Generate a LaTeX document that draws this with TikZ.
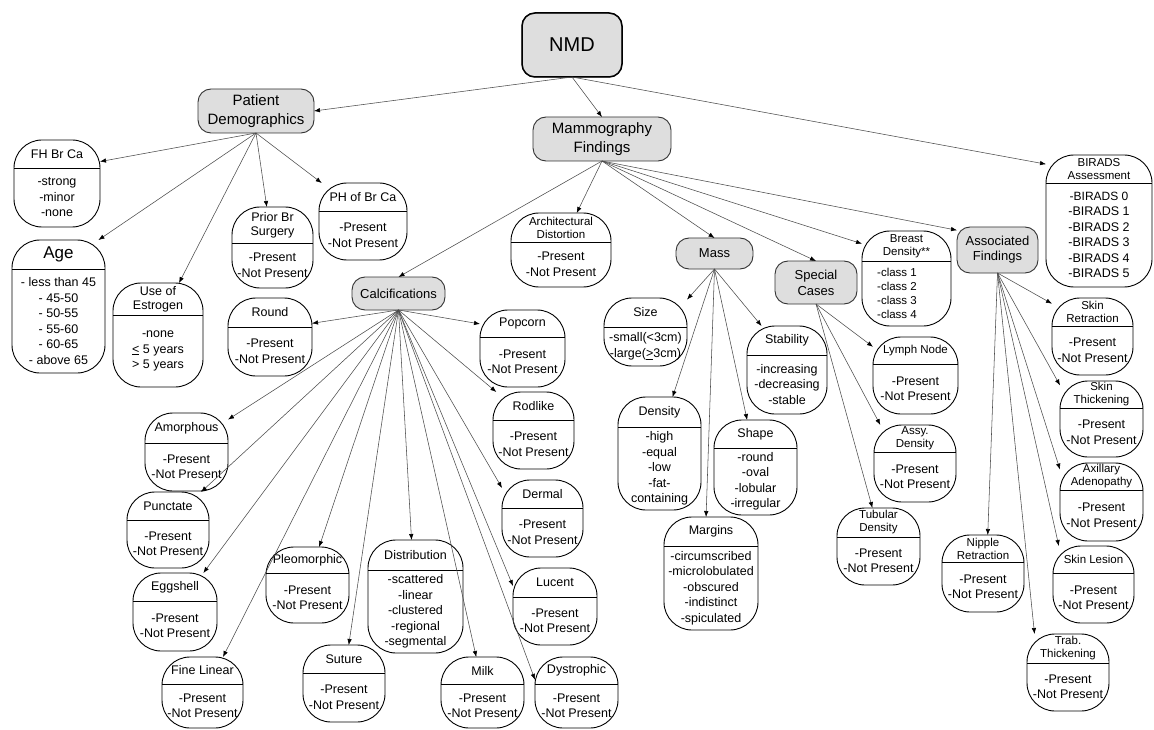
\documentclass[tikz,border=0pt]{standalone}
\usepackage{fontspec}
\setmainfont{Liberation Sans}
\usetikzlibrary{arrows.meta}
\tikzset{
  box/.style={inner sep=0pt, outer sep=0pt},
  boxline/.style={draw=black, line width=0.9pt, rounded corners=28pt},
  gbox/.style={inner sep=0pt, outer sep=0pt, align=center},
  gline/.style={draw=black!80, line width=0.9pt, rounded corners=13pt, fill=black!13},
  divl/.style={draw=black, line width=0.9pt},
  h/.style={font=\fontsize{12.5}{14}\selectfont, align=center, inner sep=0pt},
  hs/.style={font=\fontsize{11.5}{13}\selectfont, align=center, inner sep=0pt},
  hA/.style={font=\fontsize{17}{20}\selectfont, align=center, inner sep=0pt},
  bd/.style={font=\fontsize{12.5}{15.5}\selectfont, align=center, inner sep=0pt},
  arr/.style={draw=black!70, line width=0.55pt, -{Latex[length=6pt,width=4.5pt,color=black]}}
}
\newcommand\catbox[9]{%
  \pgfmathsetmacro\cbw{#4-#2}%
  \pgfmathsetmacro\cbh{#5-#3}%
  \draw[boxline] (#2,#3) rectangle (#4,#5);%
  \node[box, minimum width=\cbw pt, minimum height=\cbh pt] (#1) at ({(#2+#4)/2},{(#3+#5)/2}) {};%
  \draw[divl] (#2,#6) -- (#4,#6);%
  \node[#7] (#1-h) at ({(#2+#4)/2},{(#3+#6)/2}) {#8};%
  \node[bd] (#1-b) at ({(#2+#4)/2},{(#6+#5)/2}) {#9};%
}
\newcommand\gbx[7]{%
  \pgfmathsetmacro\cbw{#4-#2}%
  \pgfmathsetmacro\cbh{#5-#3}%
  \draw[gline] (#2,#3) rectangle (#4,#5);%
  \node[gbox, minimum width=\cbw pt, minimum height=\cbh pt, font={#6}] (#1) at ({(#2+#4)/2},{(#3+#5)/2}) {#7};%
}
\newcommand\PresNP{-Present\\-Not Present}
\begin{document}
\begin{tikzpicture}[x=1pt,y=-1pt]
\useasboundingbox (0,0) rectangle (1154,730);
\fill[white] (0,0) rectangle (1154,730);

% grey category boxes
\gbx{nmd}{522}{13}{622}{77}{\fontsize{20}{24}\selectfont}{NMD}
\draw[line width=1.5pt, rounded corners=13pt] (522,13) rectangle (622,77);
\gbx{pd}{198}{89}{314}{133}{\fontsize{15}{19}\selectfont}{Patient\\Demographics}
\gbx{mf}{533}{117}{671}{161}{\fontsize{15}{19}\selectfont}{Mammography\\Findings}
\gbx{calc}{352}{277}{445}{310}{\fontsize{13}{15}\selectfont}{Calcifications}
\gbx{mass}{676}{238}{753}{269}{\fontsize{13}{15}\selectfont}{Mass}
\gbx{spec}{775}{261}{857}{304}{\fontsize{13}{16}\selectfont}{Special\\Cases}
\gbx{af}{957}{227}{1038}{273}{\fontsize{13}{15}\selectfont}{Associated\\Findings}

% patient demographics
\catbox{fh}{14}{140}{100}{227}{168}{h}{FH Br Ca}{-strong\\-minor\\-none}
\catbox{age}{12}{240}{105}{373}{269}{hA}{Age}{\fontsize{12.5}{15.4}\selectfont - less than 45\\- 45-50\\- 50-55\\- 55-60\\- 60-65\\- above 65}
\catbox{est}{113}{283}{203}{387}{315}{h}{Use of\\Estrogen}{\fontsize{12.5}{13}\selectfont -none\\\underline{<} 5 years\\> 5 years}
\catbox{prior}{232}{207}{313}{288}{243}{h}{Prior Br\\Surgery}{\PresNP}
\catbox{ph}{319}{183}{407}{260}{211}{h}{PH of Br Ca}{\PresNP}

% calcifications
\catbox{round}{228}{298}{312}{376}{327}{h}{Round}{\PresNP}
\catbox{pop}{480}{310}{565}{387}{337}{h}{Popcorn}{\PresNP}
\catbox{rod}{493}{392}{574}{469}{420}{h}{Rodlike}{\PresNP}
\catbox{derm}{502}{480}{583}{557}{508}{h}{Dermal}{\PresNP}
\catbox{amor}{145}{413}{228}{491}{443}{h}{Amorphous}{\PresNP}
\catbox{punct}{127}{492}{209}{568}{520}{h}{Punctate}{\PresNP}
\catbox{egg}{133}{573}{217}{651}{601}{h}{Eggshell}{\PresNP}
\catbox{fine}{162}{657}{243}{728}{684}{h}{Fine Linear}{\PresNP}
\catbox{pleo}{266}{547}{349}{623}{573}{h}{Pleomorphic}{\PresNP}
\catbox{sut}{303}{645}{385}{722}{673}{h}{Suture}{\PresNP}
\catbox{dist}{368}{540}{463}{653}{570}{h}{Distribution}{-scattered\\-linear\\-clustered\\-regional\\-segmental}
\catbox{milk}{441}{657}{524}{728}{684}{h}{Milk}{\PresNP}
\catbox{dys}{535}{657}{618}{728}{684}{h}{Dystrophic}{\PresNP}
\catbox{luc}{513}{568}{597}{645}{597}{h}{Lucent}{\PresNP}

% mammography findings
\catbox{arch}{511}{213}{611}{287}{242}{hs}{Architectural\\Distortion}{\PresNP}
\catbox{size}{604}{298}{687}{366}{327}{h}{Size}{-small(<3cm)\\-large(\underline{>}3cm)}
\catbox{stab}{747}{326}{827}{414}{355}{h}{Stability}{-increasing\\-decreasing\\-stable}
\catbox{dens}{618}{397}{701}{510}{427}{h}{Density}{-high\\-equal\\-low\\-fat-\\containing}
\catbox{shape}{714}{420}{797}{515}{448}{h}{Shape}{-round\\-oval\\-lobular\\-irregular}
\catbox{marg}{664}{517}{758}{630}{546}{h}{Margins}{-circumscribed\\-microlobulated\\-obscured\\-indistinct\\-spiculated}
\catbox{lymph}{873}{337}{958}{414}{364}{hs}{Lymph Node}{\PresNP}
\catbox{assy}{874}{425}{956}{502}{452}{hs}{Assy.\\Density}{\PresNP}
\catbox{tub}{837}{508}{920}{585}{537}{hs}{Tubular\\Density}{\PresNP}
\catbox{bdens}{862}{231}{951}{326}{261}{hs}{Breast\\Density**}{}
\node[bd, font=\fontsize{11.5}{14}\selectfont, align=left, anchor=west] (bdens-l) at (877,293.5) {-class 1\\-class 2\\-class 3\\-class 4};
\catbox{birads}{1046}{155}{1152}{287}{183}{hs}{BIRADS\\Assessment}{\fontsize{12}{13.3}\selectfont -BIRADS 0\\-BIRADS 1\\-BIRADS 2\\-BIRADS 3\\-BIRADS 4\\-BIRADS 5}

% associated findings
\catbox{skret}{1052}{298}{1133}{375}{326}{hs}{Skin\\Retraction}{\PresNP}
\catbox{skthk}{1060}{381}{1143}{457}{408}{hs}{Skin\\Thickening}{\PresNP}
\catbox{axil}{1060}{463}{1143}{541}{490}{hs}{Axillary\\Adenopathy}{\PresNP}
\catbox{sklr}{1053}{546}{1134}{623}{573}{hs}{Skin Lesion}{\PresNP}
\catbox{nip}{942}{535}{1024}{612}{562}{hs}{Nipple\\Retraction}{\PresNP}
\catbox{trab}{1027}{634}{1109}{711}{663}{hs}{Trab.\\Thickening}{\PresNP}

% connectors
\draw[arr] (nmd.south) -- (pd.east);
\draw[arr] (nmd.south) -- (mf.north);
\draw[arr] (nmd.south) -- (birads.133);

\draw[arr] (pd.south) -- (fh.27);
\draw[arr] (pd.south) -- (age.59);
\draw[arr] (pd.south) -- (est.68);
\draw[arr] (pd.south) -- (prior.98);
\draw[arr] (pd.south) -- (ph.137);

\draw[arr] (mf.south) -- (calc.north);
\draw[arr] (mf.south) -- (arch.67);
\draw[arr] (mf.south) -- (mass.north);
\draw[arr] (mf.south) -- (spec.north);
\draw[arr] (mf.south) -- (bdens.142);
\draw[arr] (mf.south) -- (af.154);

\draw[arr] (calc.south) -- (round.18);
\draw[arr] (calc.south) -- (pop.150);
\draw[arr] (calc.south) -- (rod.134);
\draw[arr] (calc.south) -- (derm.143);
\draw[arr] (calc.south) -- (amor.38);
\draw[arr] (calc.south) -- (punct.49);
\draw[arr] (calc.south) -- (egg.54);
\draw[arr] (calc.south) -- (fine.60);
\draw[arr] (calc.south) -- (pleo.73);
\draw[arr] (calc.south) -- (sut.83);
\draw[arr] (calc.south) -- (dist.94);
\draw[arr] (calc.south) -- (milk.100);
\draw[arr] (calc.south) -- (luc.154);
\draw[arr] (calc.south) -- (dys.163);

\draw[arr] (mass.south) -- (size.38);
\draw[arr] (mass.south) -- (dens.77);
\draw[arr] (mass.south) -- (marg.95);
\draw[arr] (mass.south) -- (shape.100);
\draw[arr] (mass.south) -- (stab.120);

\draw[arr] (spec.south) -- (lymph.146);
\draw[arr] (spec.south) -- (assy.132);
\draw[arr] (spec.south) -- (tub.99);

\draw[arr] (af.south) -- (skret.141);
\draw[arr] (af.south) -- (skthk.141);
\draw[arr] (af.south) -- (axil.142);
\draw[arr] (af.south) -- (sklr.132);
\draw[arr] (af.south) -- (nip.83);
\draw[arr] (af.south) -- (trab.131);
\end{tikzpicture}
\end{document}
